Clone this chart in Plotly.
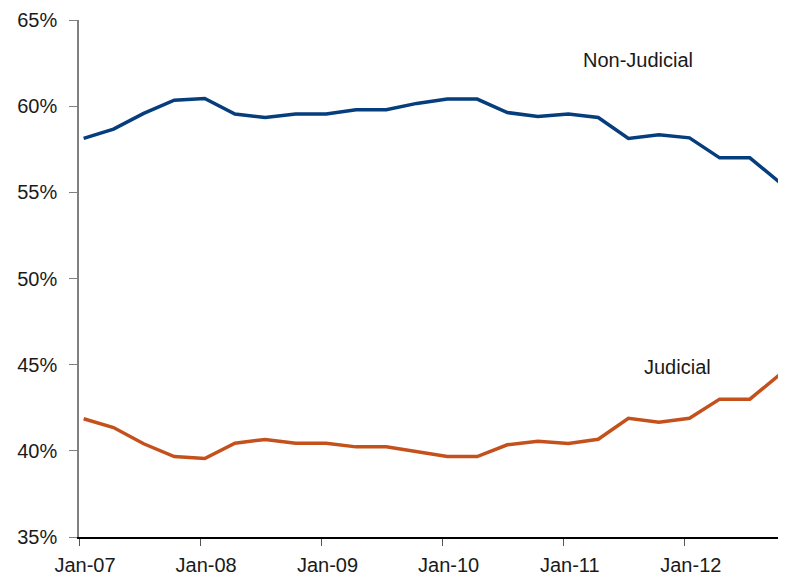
import plotly.graph_objects as go

quarters = ["2007-01-15", "2007-04-15", "2007-07-15", "2007-10-15",
            "2008-01-15", "2008-04-15", "2008-07-15", "2008-10-15",
            "2009-01-15", "2009-04-15", "2009-07-15", "2009-10-15",
            "2010-01-15", "2010-04-15", "2010-07-15", "2010-10-15",
            "2011-01-15", "2011-04-15", "2011-07-15", "2011-10-15",
            "2012-01-15", "2012-04-15", "2012-07-15", "2012-10-15"]

non_judicial = [58.13, 58.67, 59.58, 60.35, 60.45, 59.54, 59.34, 59.55,
                59.55, 59.79, 59.79, 60.16, 60.41, 60.41, 59.63, 59.40,
                59.55, 59.34, 58.13, 58.34, 58.16, 57.00, 57.00, 55.55]

judicial = [41.86, 41.35, 40.41, 39.67, 39.55, 40.44, 40.66, 40.44,
            40.44, 40.23, 40.23, 39.94, 39.67, 39.67, 40.35, 40.56,
            40.43, 40.67, 41.89, 41.66, 41.89, 43.00, 43.00, 44.45]

y_ticks = [35, 40, 45, 50, 55, 60, 65]
x_ticks = ["2007-01-01", "2008-01-01", "2009-01-01", "2010-01-01", "2011-01-01", "2012-01-01"]
x_labels = ["Jan-07", "Jan-08", "Jan-09", "Jan-10", "Jan-11", "Jan-12"]

FONT = "Liberation Sans, Arial, sans-serif"

fig = go.Figure()
fig.add_trace(go.Scatter(x=quarters, y=non_judicial, mode="lines", name="Non-Judicial",
                         line=dict(color="#063d7c", width=3.5)))
fig.add_trace(go.Scatter(x=quarters, y=judicial, mode="lines", name="Judicial",
                         line=dict(color="#c4511c", width=3.5)))

fig.add_annotation(text="Non-Judicial", xref="paper", yref="paper", x=0.7907, y=0.9226,
                   xanchor="center", yanchor="middle",
                   showarrow=False, font=dict(family=FONT, size=20, color="#1a1a1a"))
fig.add_annotation(text="Judicial", xref="paper", yref="paper", x=0.8465, y=0.3288,
                   xanchor="center", yanchor="middle",
                   showarrow=False, font=dict(family=FONT, size=20, color="#1a1a1a"))

# the page body adds an 8px offset, so the figure is sized and margined to compensate
fig.update_layout(
    width=778, height=576,
    margin=dict(l=71, r=0, t=12, b=47),
    paper_bgcolor="white", plot_bgcolor="white",
    showlegend=False,
    font=dict(family=FONT, size=20, color="#1a1a1a"),
    xaxis=dict(type="date", range=["2007-01-01", "2012-11-01"],
               tickmode="array", tickvals=x_ticks, ticktext=x_labels,
               showgrid=False, zeroline=False, automargin=False,
               showline=True, linecolor="black", linewidth=1.5,
               ticks="outside", ticklen=7, tickcolor="#555555", tickwidth=1,
               ticklabelshift=6, ticklabelstandoff=2),
    yaxis=dict(range=[35, 65], tickmode="array", tickvals=y_ticks,
               ticktext=[f"{v}%" for v in y_ticks],
               showgrid=False, zeroline=False, automargin=False,
               showline=True, linecolor="#808080", linewidth=1.5,
               ticks="outside", ticklen=8, tickcolor="#808080", tickwidth=1,
               ticklabelstandoff=8),
)

fig.write_html("out.html")
